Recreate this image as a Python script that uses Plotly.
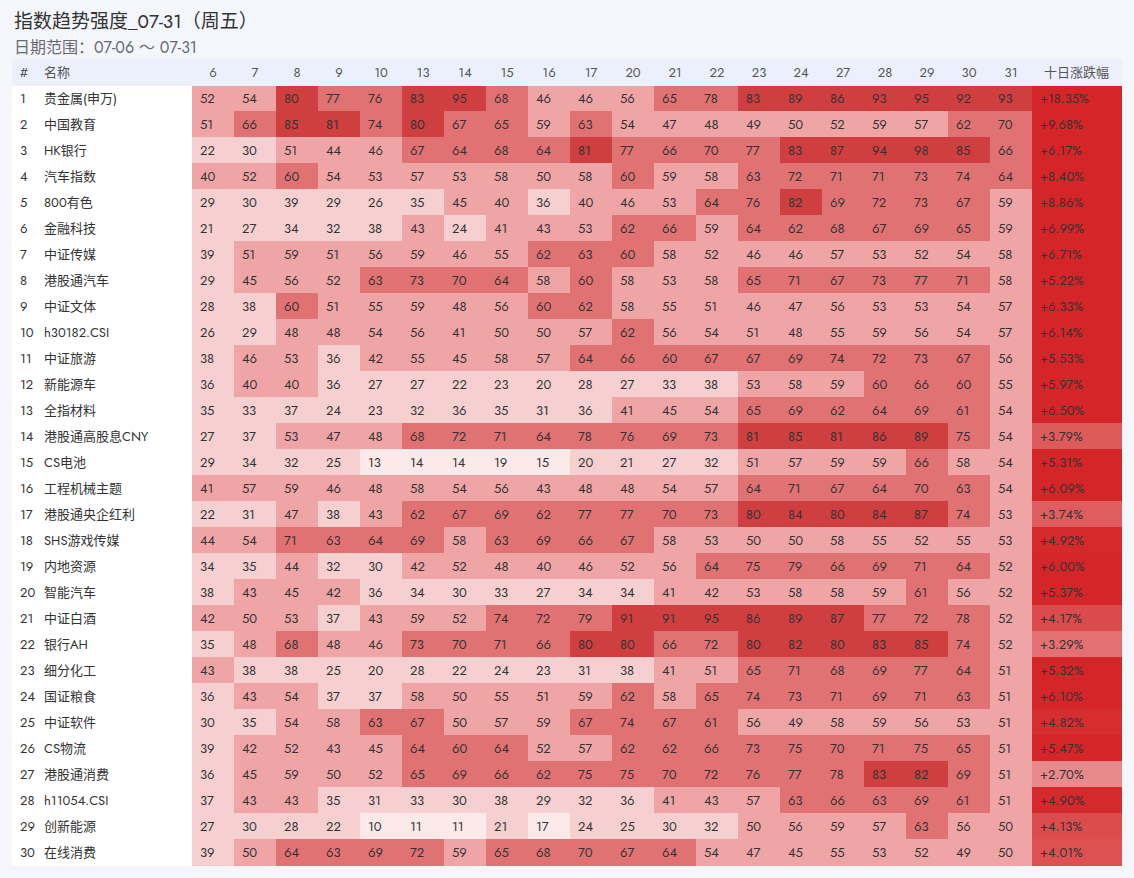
import plotly.graph_objects as go

days = ["6", "7", "8", "9", "10", "13", "14", "15", "16", "17",
        "20", "21", "22", "23", "24", "27", "28", "29", "30", "31"]

names = ["贵金属(申万)", "中国教育", "HK银行", "汽车指数", "800有色", "金融科技", "中证传媒",
         "港股通汽车", "中证文体", "h30182.CSI", "中证旅游", "新能源车", "全指材料",
         "港股通高股息CNY", "CS电池", "工程机械主题", "港股通央企红利", "SHS游戏传媒",
         "内地资源", "智能汽车", "中证白酒", "银行AH", "细分化工", "国证粮食", "中证软件",
         "CS物流", "港股通消费", "h11054.CSI", "创新能源", "在线消费"]

scores = [
    [52, 54, 80, 77, 76, 83, 95, 68, 46, 46, 56, 65, 78, 83, 89, 86, 93, 95, 92, 93],
    [51, 66, 85, 81, 74, 80, 67, 65, 59, 63, 54, 47, 48, 49, 50, 52, 59, 57, 62, 70],
    [22, 30, 51, 44, 46, 67, 64, 68, 64, 81, 77, 66, 70, 77, 83, 87, 94, 98, 85, 66],
    [40, 52, 60, 54, 53, 57, 53, 58, 50, 58, 60, 59, 58, 63, 72, 71, 71, 73, 74, 64],
    [29, 30, 39, 29, 26, 35, 45, 40, 36, 40, 46, 53, 64, 76, 82, 69, 72, 73, 67, 59],
    [21, 27, 34, 32, 38, 43, 24, 41, 43, 53, 62, 66, 59, 64, 62, 68, 67, 69, 65, 59],
    [39, 51, 59, 51, 56, 59, 46, 55, 62, 63, 60, 58, 52, 46, 46, 57, 53, 52, 54, 58],
    [29, 45, 56, 52, 63, 73, 70, 64, 58, 60, 58, 53, 58, 65, 71, 67, 73, 77, 71, 58],
    [28, 38, 60, 51, 55, 59, 48, 56, 60, 62, 58, 55, 51, 46, 47, 56, 53, 53, 54, 57],
    [26, 29, 48, 48, 54, 56, 41, 50, 50, 57, 62, 56, 54, 51, 48, 55, 59, 56, 54, 57],
    [38, 46, 53, 36, 42, 55, 45, 58, 57, 64, 66, 60, 67, 67, 69, 74, 72, 73, 67, 56],
    [36, 40, 40, 36, 27, 27, 22, 23, 20, 28, 27, 33, 38, 53, 58, 59, 60, 66, 60, 55],
    [35, 33, 37, 24, 23, 32, 36, 35, 31, 36, 41, 45, 54, 65, 69, 62, 64, 69, 61, 54],
    [27, 37, 53, 47, 48, 68, 72, 71, 64, 78, 76, 69, 73, 81, 85, 81, 86, 89, 75, 54],
    [29, 34, 32, 25, 13, 14, 14, 19, 15, 20, 21, 27, 32, 51, 57, 59, 59, 66, 58, 54],
    [41, 57, 59, 46, 48, 58, 54, 56, 43, 48, 48, 54, 57, 64, 71, 67, 64, 70, 63, 54],
    [22, 31, 47, 38, 43, 62, 67, 69, 62, 77, 77, 70, 73, 80, 84, 80, 84, 87, 74, 53],
    [44, 54, 71, 63, 64, 69, 58, 63, 69, 66, 67, 58, 53, 50, 50, 58, 55, 52, 55, 53],
    [34, 35, 44, 32, 30, 42, 52, 48, 40, 46, 52, 56, 64, 75, 79, 66, 69, 71, 64, 52],
    [38, 43, 45, 42, 36, 34, 30, 33, 27, 34, 34, 41, 42, 53, 58, 58, 59, 61, 56, 52],
    [42, 50, 53, 37, 43, 59, 52, 74, 72, 79, 91, 91, 95, 86, 89, 87, 77, 72, 78, 52],
    [35, 48, 68, 48, 46, 73, 70, 71, 66, 80, 80, 66, 72, 80, 82, 80, 83, 85, 74, 52],
    [43, 38, 38, 25, 20, 28, 22, 24, 23, 31, 38, 41, 51, 65, 71, 68, 69, 77, 64, 51],
    [36, 43, 54, 37, 37, 58, 50, 55, 51, 59, 62, 58, 65, 74, 73, 71, 69, 71, 63, 51],
    [30, 35, 54, 58, 63, 67, 50, 57, 59, 67, 74, 67, 61, 56, 49, 58, 59, 56, 53, 51],
    [39, 42, 52, 43, 45, 64, 60, 64, 52, 57, 62, 62, 66, 73, 75, 70, 71, 75, 65, 51],
    [36, 45, 59, 50, 52, 65, 69, 66, 62, 75, 75, 70, 72, 76, 77, 78, 83, 82, 69, 51],
    [37, 43, 43, 35, 31, 33, 30, 38, 29, 32, 36, 41, 43, 57, 63, 66, 63, 69, 61, 51],
    [27, 30, 28, 22, 10, 11, 11, 21, 17, 24, 25, 30, 32, 50, 56, 59, 57, 63, 56, 50],
    [39, 50, 64, 63, 69, 72, 59, 65, 68, 70, 67, 64, 54, 47, 45, 55, 53, 52, 49, 50],
]

change_pct = [18.35, 9.68, 6.17, 8.40, 8.86, 6.99, 6.71, 5.22, 6.33, 6.14,
              5.53, 5.97, 6.50, 3.79, 5.31, 6.09, 3.74, 4.92, 6.00, 5.37,
              4.17, 3.29, 5.32, 6.10, 4.82, 5.47, 2.70, 4.90, 4.13, 4.01]

FONT = "Jost, Lato, 'Noto Sans CJK SC', sans-serif"


def score_color(v):
    if v >= 80:
        return "#cf3f40"
    if v >= 60:
        return "#e07273"
    if v >= 40:
        return "#efa5a6"
    if v >= 20:
        return "#f6d0d1"
    return "#fce9ea"


def change_color(v):
    a = min(1.0, v / 5.0)
    base = (212, 38, 40)
    r, g, b = [round(255 - a * (255 - c)) for c in base]
    return f"rgb({r},{g},{b})"


n = len(names)
ranks = [str(i + 1) for i in range(n)]

values = [ranks, names]
fills = [["#ffffff"] * n, ["#ffffff"] * n]
for j in range(len(days)):
    col = [scores[i][j] for i in range(n)]
    values.append([str(v) for v in col])
    fills.append([score_color(v) for v in col])
values.append([f"+{v:.2f}%" for v in change_pct])
fills.append([change_color(v) for v in change_pct])

headers = ["#", "名称"] + days + ["十日涨跌幅"]
colwidths = [24, 156] + [42] * len(days) + [89]
aligns_h = ["left", "left"] + ["center"] * len(days) + ["center"]
aligns_c = ["left", "left"] + ["left"] * len(days) + ["left"]

W, H = 1134, 878
top, bottom = 59, 865

fig = go.Figure(go.Table(
    domain=dict(x=[12 / W, 1121 / W], y=[1 - (bottom + 2) / H, 1 - top / H]),
    columnwidth=colwidths,
    header=dict(values=headers, fill_color="#ebf0fc", line=dict(color="#ebf0fc", width=1),
                align=aligns_h, height=26, font=dict(family=FONT, size=13, color="#555555")),
    cells=dict(values=values, fill_color=fills, line=dict(color=fills, width=1),
               align=aligns_c, height=26, font=dict(family=FONT, size=13, color="#333333")),
))

fig.add_annotation(text="指数趋势强度_07-31（周五）", x=12 / W, y=1 - 21 / H, xref="paper", yref="paper",
                   xanchor="left", yanchor="middle", showarrow=False,
                   font=dict(family=FONT, size=19, color="#333333"))
fig.add_annotation(text="日期范围：07-06 ～ 07-31", x=12 / W, y=1 - 47 / H, xref="paper", yref="paper",
                   xanchor="left", yanchor="middle", showarrow=False,
                   font=dict(family=FONT, size=16, color="#666a73"))

fig.update_layout(width=W, height=H, margin=dict(l=0, r=0, t=0, b=0),
                  paper_bgcolor="#f4f6fb", plot_bgcolor="#f4f6fb")

fig.write_html("out.html", config={"displayModeBar": False},
               post_script="document.body.style.margin='0';document.body.style.overflow='hidden';")
